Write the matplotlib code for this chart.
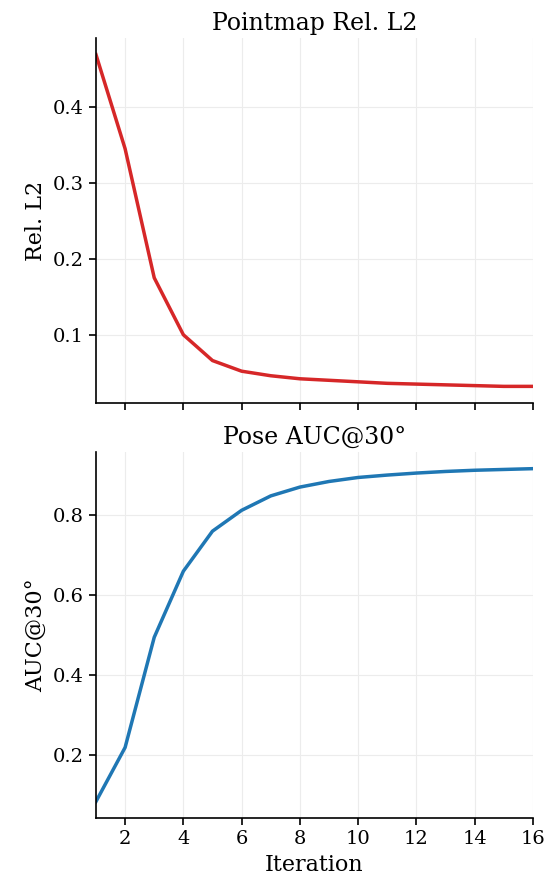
import matplotlib
matplotlib.use('Agg')
import matplotlib.pyplot as plt

# per-iteration metrics
iterations = list(range(1, 17))
rel_l2 = [0.469, 0.345, 0.175, 0.100, 0.066, 0.052, 0.046, 0.042,
          0.040, 0.038, 0.036, 0.035, 0.034, 0.033, 0.032, 0.032]
auc30 = [0.085, 0.220, 0.495, 0.660, 0.760, 0.812, 0.848, 0.870,
         0.884, 0.894, 0.900, 0.905, 0.909, 0.912, 0.914, 0.916]
xticks = [2, 4, 6, 8, 10, 12, 14, 16]

plt.rcParams['font.family'] = 'DejaVu Serif'
plt.rcParams['xtick.labelsize'] = 14
plt.rcParams['ytick.labelsize'] = 14

fig = plt.figure(figsize=(5.58, 8.76), dpi=100)
ax1 = fig.add_axes([0.172, 0.540, 0.783, 0.4166])
ax2 = fig.add_axes([0.172, 0.066, 0.783, 0.418])

ax1.plot(iterations, rel_l2, color='#d62728', lw=2.5)
ax1.set_title('Pointmap Rel. L2', fontsize=17)
ax1.set_ylabel('Rel. L2', fontsize=16)
ax1.tick_params(labelbottom=False)

ax2.plot(iterations, auc30, color='#1f77b4', lw=2.5)
ax2.set_title('Pose AUC@30°', fontsize=17)
ax2.set_ylabel('AUC@30°', fontsize=16)
ax2.set_xlabel('Iteration', fontsize=16)

for ax in (ax1, ax2):
    ax.set_xlim(1, 16)
    ax.set_xticks(xticks)
    ax.grid(True, color='#ececec', lw=0.8)
    ax.spines['top'].set_visible(False)
    ax.spines['right'].set_visible(False)
    ax.spines['left'].set_linewidth(1.2)
    ax.spines['bottom'].set_linewidth(1.2)
    ax.tick_params(length=5, width=1.2)

fig.savefig('out.png', dpi=100)
